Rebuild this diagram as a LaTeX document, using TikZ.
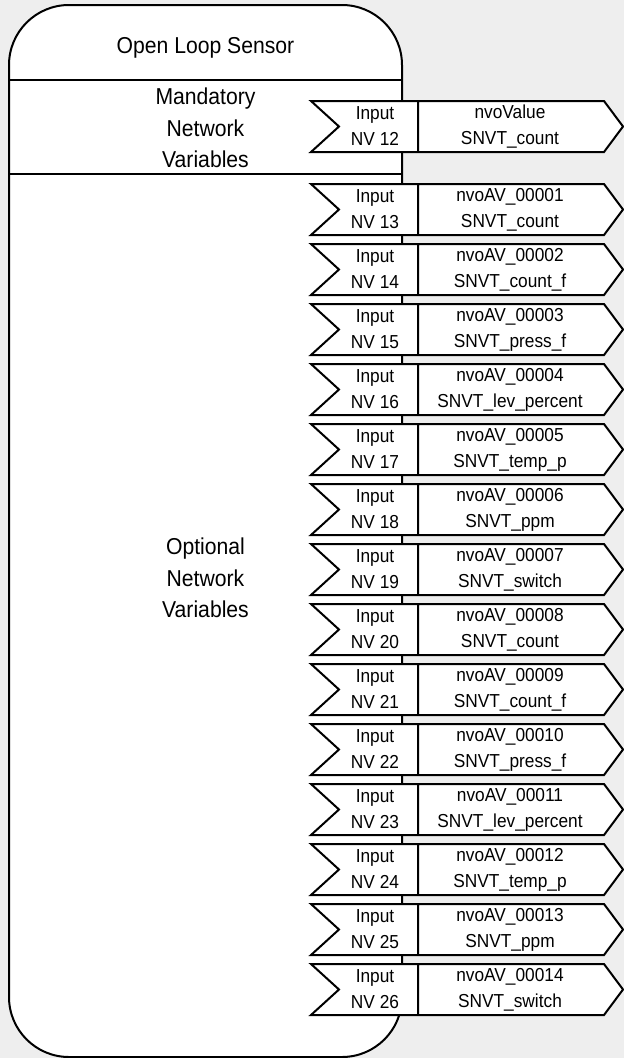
\documentclass[tikz,border=0pt]{standalone}
\usepackage{fontspec}
\setmainfont{Liberation Sans}[FakeStretch=0.92]
\definecolor{pagegray}{HTML}{EEEEEE}
\tikzset{
  sensor/.style={draw=black, line width=2pt, fill=white, rounded corners=60pt},
  nvshape/.style={draw=black, line width=2pt, fill=white},
  nvtext/.style={align=center, inner sep=0pt, font=\fontsize{18.8}{26}\selectfont},
  headtext/.style={align=center, inner sep=0pt, font=\fontsize{23}{31.5}\selectfont}
}

\begin{document}
\begin{tikzpicture}[x=1pt, y=-1pt]
\useasboundingbox (0,0) rectangle (624,1058);
\fill[pagegray] (0,0) rectangle (624,1058);
% sensor block
\filldraw[sensor] (9,5) rectangle (402,1057);
\coordinate (TL) at (9,80);
\coordinate (TR) at (402,80);
\coordinate (ML) at (9,174);
\coordinate (MR) at (402,174);
\draw[line width=2pt] (TL) -- (TR);
\draw[line width=2pt] (ML) -- (MR);
\node[headtext] (title) at (205.5,47.5) {Open Loop Sensor};
\node[headtext] (mand) at (205.5,128) {Mandatory\\Network\\Variables};
\node[headtext] (opt) at (205.5,578) {Optional\\Network\\Variables};
% mandatory NV
\begin{scope}[shift={(0,101)}]
\filldraw[nvshape] (311,0) -- (604,0) -- (623,25.5) -- (604,51) -- (311,51) -- (339,25.5) -- cycle (418,0) -- (418,51);
\node[nvtext] (in12) at (375,25.5) {Input\\NV 12};
\node[nvtext] (val12) at (510,25.5) {nvoValue\\SNVT\_count};
\end{scope}
% optional NVs
\begin{scope}[shift={(0,184)}]
\filldraw[nvshape] (311,0) -- (604,0) -- (623,25.5) -- (604,51) -- (311,51) -- (339,25.5) -- cycle (418,0) -- (418,51);
\node[nvtext] (in13) at (375,25.5) {Input\\NV 13};
\node[nvtext] (av01) at (510,25.5) {nvoAV\_00001\\SNVT\_count};
\end{scope}
\begin{scope}[shift={(0,244)}]
\filldraw[nvshape] (311,0) -- (604,0) -- (623,25.5) -- (604,51) -- (311,51) -- (339,25.5) -- cycle (418,0) -- (418,51);
\node[nvtext] (in14) at (375,25.5) {Input\\NV 14};
\node[nvtext] (av02) at (510,25.5) {nvoAV\_00002\\SNVT\_count\_f};
\end{scope}
\begin{scope}[shift={(0,304)}]
\filldraw[nvshape] (311,0) -- (604,0) -- (623,25.5) -- (604,51) -- (311,51) -- (339,25.5) -- cycle (418,0) -- (418,51);
\node[nvtext] (in15) at (375,25.5) {Input\\NV 15};
\node[nvtext] (av03) at (510,25.5) {nvoAV\_00003\\SNVT\_press\_f};
\end{scope}
\begin{scope}[shift={(0,364)}]
\filldraw[nvshape] (311,0) -- (604,0) -- (623,25.5) -- (604,51) -- (311,51) -- (339,25.5) -- cycle (418,0) -- (418,51);
\node[nvtext] (in16) at (375,25.5) {Input\\NV 16};
\node[nvtext] (av04) at (510,25.5) {nvoAV\_00004\\SNVT\_lev\_percent};
\end{scope}
\begin{scope}[shift={(0,424)}]
\filldraw[nvshape] (311,0) -- (604,0) -- (623,25.5) -- (604,51) -- (311,51) -- (339,25.5) -- cycle (418,0) -- (418,51);
\node[nvtext] (in17) at (375,25.5) {Input\\NV 17};
\node[nvtext] (av05) at (510,25.5) {nvoAV\_00005\\SNVT\_temp\_p};
\end{scope}
\begin{scope}[shift={(0,484)}]
\filldraw[nvshape] (311,0) -- (604,0) -- (623,25.5) -- (604,51) -- (311,51) -- (339,25.5) -- cycle (418,0) -- (418,51);
\node[nvtext] (in18) at (375,25.5) {Input\\NV 18};
\node[nvtext] (av06) at (510,25.5) {nvoAV\_00006\\SNVT\_ppm};
\end{scope}
\begin{scope}[shift={(0,544)}]
\filldraw[nvshape] (311,0) -- (604,0) -- (623,25.5) -- (604,51) -- (311,51) -- (339,25.5) -- cycle (418,0) -- (418,51);
\node[nvtext] (in19) at (375,25.5) {Input\\NV 19};
\node[nvtext] (av07) at (510,25.5) {nvoAV\_00007\\SNVT\_switch};
\end{scope}
\begin{scope}[shift={(0,604)}]
\filldraw[nvshape] (311,0) -- (604,0) -- (623,25.5) -- (604,51) -- (311,51) -- (339,25.5) -- cycle (418,0) -- (418,51);
\node[nvtext] (in20) at (375,25.5) {Input\\NV 20};
\node[nvtext] (av08) at (510,25.5) {nvoAV\_00008\\SNVT\_count};
\end{scope}
\begin{scope}[shift={(0,664)}]
\filldraw[nvshape] (311,0) -- (604,0) -- (623,25.5) -- (604,51) -- (311,51) -- (339,25.5) -- cycle (418,0) -- (418,51);
\node[nvtext] (in21) at (375,25.5) {Input\\NV 21};
\node[nvtext] (av09) at (510,25.5) {nvoAV\_00009\\SNVT\_count\_f};
\end{scope}
\begin{scope}[shift={(0,724)}]
\filldraw[nvshape] (311,0) -- (604,0) -- (623,25.5) -- (604,51) -- (311,51) -- (339,25.5) -- cycle (418,0) -- (418,51);
\node[nvtext] (in22) at (375,25.5) {Input\\NV 22};
\node[nvtext] (av10) at (510,25.5) {nvoAV\_00010\\SNVT\_press\_f};
\end{scope}
\begin{scope}[shift={(0,784)}]
\filldraw[nvshape] (311,0) -- (604,0) -- (623,25.5) -- (604,51) -- (311,51) -- (339,25.5) -- cycle (418,0) -- (418,51);
\node[nvtext] (in23) at (375,25.5) {Input\\NV 23};
\node[nvtext] (av11) at (510,25.5) {nvoAV\_00011\\SNVT\_lev\_percent};
\end{scope}
\begin{scope}[shift={(0,844)}]
\filldraw[nvshape] (311,0) -- (604,0) -- (623,25.5) -- (604,51) -- (311,51) -- (339,25.5) -- cycle (418,0) -- (418,51);
\node[nvtext] (in24) at (375,25.5) {Input\\NV 24};
\node[nvtext] (av12) at (510,25.5) {nvoAV\_00012\\SNVT\_temp\_p};
\end{scope}
\begin{scope}[shift={(0,904)}]
\filldraw[nvshape] (311,0) -- (604,0) -- (623,25.5) -- (604,51) -- (311,51) -- (339,25.5) -- cycle (418,0) -- (418,51);
\node[nvtext] (in25) at (375,25.5) {Input\\NV 25};
\node[nvtext] (av13) at (510,25.5) {nvoAV\_00013\\SNVT\_ppm};
\end{scope}
\begin{scope}[shift={(0,964)}]
\filldraw[nvshape] (311,0) -- (604,0) -- (623,25.5) -- (604,51) -- (311,51) -- (339,25.5) -- cycle (418,0) -- (418,51);
\node[nvtext] (in26) at (375,25.5) {Input\\NV 26};
\node[nvtext] (av14) at (510,25.5) {nvoAV\_00014\\SNVT\_switch};
\end{scope}
\end{tikzpicture}
\end{document}
